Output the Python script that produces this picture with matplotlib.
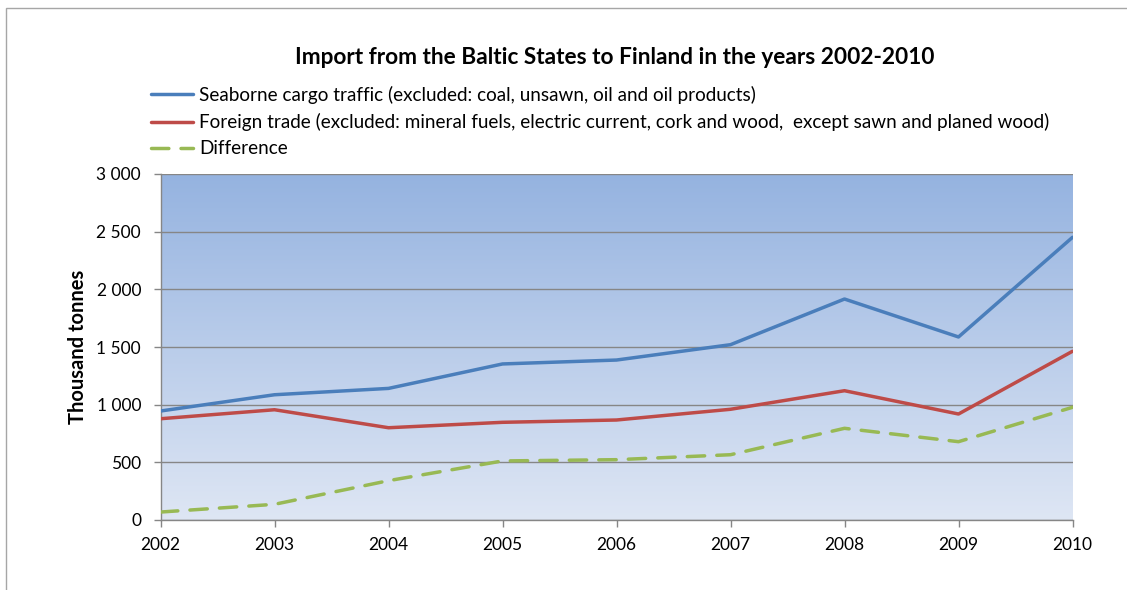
import numpy as np
import matplotlib
matplotlib.use("Agg")
import matplotlib.pyplot as plt
from matplotlib.patches import Rectangle

plt.rcParams["font.family"] = ["Lato", "DejaVu Sans"]

years = [2002, 2003, 2004, 2005, 2006, 2007, 2008, 2009, 2010]
seaborne = [945, 1086, 1141, 1353, 1387, 1520, 1916, 1587, 2451]
foreign = [878, 956, 800, 847, 867, 960, 1121, 919, 1463]
difference = [69, 136, 341, 512, 523, 566, 795, 679, 977]

y_ticks = [0, 500, 1000, 1500, 2000, 2500, 3000]
y_tick_labels = ["0", "500", "1 000", "1 500", "2 000", "2 500", "3 000"]

W, H = 1127, 590
fig = plt.figure(figsize=(W / 100, H / 100), dpi=100)
fig.patch.set_facecolor("white")

# outer chart frame (cropped on right/bottom like the original)
fig.add_artist(Rectangle((6 / W, -0.05), 1.2, 1 - 8 / H + 0.05, transform=fig.transFigure,
                         fill=False, edgecolor="#a6a6a6", linewidth=1.0))

ax = fig.add_axes([160.5 / W, 1 - 520 / H, (1072.5 - 160.5) / W, (520 - 174) / H])

# vertical gradient background
top = np.array([149, 179, 224]) / 255
bottom = np.array([222, 230, 244]) / 255
t = np.linspace(0, 1, 256)[:, None]
grad = (top * (1 - t) + bottom * t)[:, None, :].repeat(2, axis=1)
ax.imshow(grad, extent=[0, 1, 0, 1], transform=ax.transAxes, aspect="auto", zorder=0)

ax.set_xlim(years[0], years[-1])
ax.set_ylim(0, 3000)
ax.set_yticks(y_ticks)
ax.set_yticklabels(y_tick_labels)
ax.set_xticks(years)
ax.set_xticklabels([str(y) for y in years])
ax.grid(axis="y", color="#868686", linewidth=1.0, zorder=1)
ax.set_axisbelow(False)

for side in ["top", "right"]:
    ax.spines[side].set_visible(False)
for side in ["left", "bottom"]:
    ax.spines[side].set_color("#868686")
    ax.spines[side].set_linewidth(1.0)
ax.tick_params(axis="both", colors="#868686", length=5, width=1, labelcolor="black",
               labelsize=12.5)
ax.tick_params(axis="x", pad=7)
ax.tick_params(axis="y", pad=9)

l1, = ax.plot(years, seaborne, color="#4A7EBB", linewidth=2.5, zorder=3,
              solid_capstyle="round",
              label="Seaborne cargo traffic (excluded: coal, unsawn, oil and oil products)")
l2, = ax.plot(years, foreign, color="#BE4B48", linewidth=2.5, zorder=3,
              solid_capstyle="round",
              label="Foreign trade (excluded: mineral fuels, electric current, cork and wood,  except sawn and planed wood)")
l3, = ax.plot(years, difference, color="#98B954", linewidth=2.5, zorder=3,
              dashes=(5, 3.5), dash_capstyle="round", label="Difference")

ax.set_ylabel("Thousand tonnes", fontsize=14.5, fontweight="bold", labelpad=6)

fig.text(615 / W, 1 - 58 / H, "Import from the Baltic States to Finland in the years 2002-2010",
         ha="center", va="center", fontsize=16.3, fontweight="bold")

fig.legend(handles=[l1, l2, l3], loc="upper left", bbox_to_anchor=(151 / W, 1 - 86 / H),
           frameon=False, fontsize=13.6, handlelength=2.2, handletextpad=0.35,
           labelspacing=0.48, borderaxespad=0, borderpad=0)

fig.savefig("out.png", dpi=100)
